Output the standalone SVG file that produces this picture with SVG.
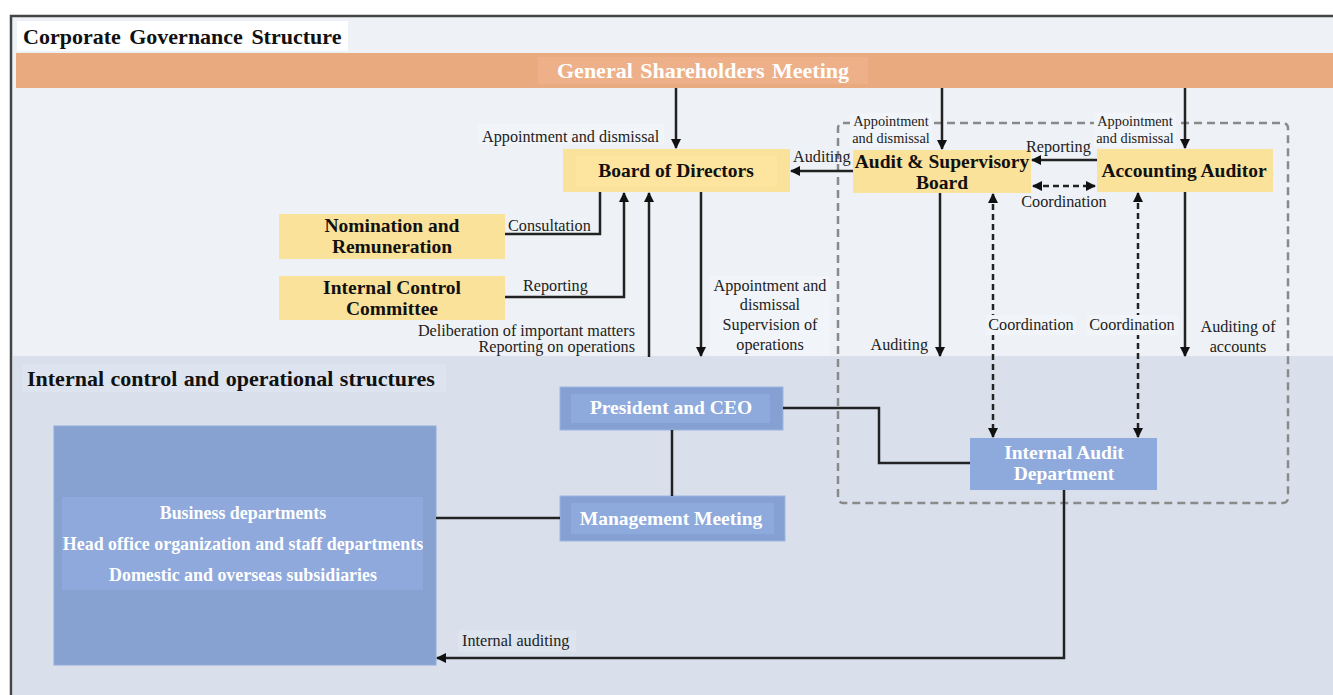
<svg xmlns="http://www.w3.org/2000/svg" width="1333" height="695" viewBox="0 0 1333 695">
<defs>
<style>
.t{font-family:"Liberation Serif","Times New Roman",serif;}
.h{font-weight:bold;font-size:22px;fill:#111;}
.n{font-weight:bold;font-size:19.5px;fill:#111;text-anchor:middle;}
.w{font-weight:bold;font-size:19.5px;fill:#fff;text-anchor:middle;}
.wd{font-weight:bold;font-size:17.9px;fill:#fff;text-anchor:middle;}
.l{font-size:16.2px;fill:#222;}
.s{font-size:14.3px;fill:#222;}
.ln{fill:none;stroke:#222;stroke-width:2.5;}
.dl{fill:none;stroke:#222;stroke-width:2.5;stroke-dasharray:6 4;}
.y{fill:#fbe29a;}
.yi{fill:#fde59f;}
.b{fill:#85a1d4;stroke:#9db4df;stroke-width:1;}
.bi{fill:#8eaadd;}
.lb{fill:#f1f4f8;}
</style>
<marker id="a" markerWidth="10" markerHeight="10" refX="9" refY="5" orient="auto" markerUnits="userSpaceOnUse">
<path d="M0,0 L10,5 L0,10 Z" fill="#111"/>
</marker>
<marker id="as" markerWidth="10" markerHeight="10" refX="1" refY="5" orient="auto" markerUnits="userSpaceOnUse">
<path d="M10,0 L0,5 L10,10 Z" fill="#111"/>
</marker>
</defs>
<rect x="0" y="0" width="1333" height="695" fill="#ffffff"/>
<rect x="11" y="16" width="1340" height="700" fill="#eef2f6" stroke="#444" stroke-width="2.5"/>
<rect x="13" y="356" width="1330" height="340" fill="#d9e0ec"/>
<g id="title">
<rect x="17" y="21" width="331" height="30" fill="#ffffff"/>
<text class="t h" x="23" y="44" word-spacing="3">Corporate Governance Structure</text>
</g>
<g id="shareholders">
<rect x="16" y="53" width="1320" height="35" fill="#e9aa80"/>
<rect x="538" y="57" width="330" height="27" fill="#eeb088"/>
<text class="t" x="703" y="78" font-size="22" font-weight="bold" fill="#fff" text-anchor="middle" word-spacing="2">General Shareholders Meeting</text>
</g>
<g id="section2">
<rect x="22" y="364" width="424" height="28" fill="#dde4ef"/>
<text class="t h" x="27" y="386" word-spacing="1">Internal control and operational structures</text>
</g>
<g id="audit-boundary">
<rect x="838" y="123" width="450" height="380" rx="5" fill="none" stroke="#8a8a8a" stroke-width="2.5" stroke-dasharray="8 5"/>
</g>
<g id="board">
<rect class="y" x="563" y="149" width="227" height="43"/>
<rect class="yi" x="576" y="156" width="201" height="30"/>
<text class="t n" x="676" y="177">Board of Directors</text>
</g>
<g id="asb">
<rect class="y" x="853" y="150" width="178" height="43"/>
<text class="t n" x="942" y="168">Audit &amp; Supervisory</text>
<text class="t n" x="942" y="189">Board</text>
</g>
<g id="accounting">
<rect class="y" x="1097" y="149" width="176" height="43"/>
<text class="t n" x="1184" y="177">Accounting Auditor</text>
</g>
<g id="nomination">
<rect class="y" x="279" y="214" width="226" height="45"/>
<text class="t n" x="392" y="232">Nomination and</text>
<text class="t n" x="392" y="253">Remuneration</text>
</g>
<g id="icc">
<rect class="y" x="279" y="276" width="226" height="44"/>
<text class="t n" x="392" y="294">Internal Control</text>
<text class="t n" x="392" y="315">Committee</text>
</g>
<g id="president">
<rect class="b" x="560" y="387" width="223" height="43"/>
<rect class="bi" x="571" y="394" width="199" height="29"/>
<text class="t w" x="671" y="414">President and CEO</text>
</g>
<g id="mgmt">
<rect class="b" x="560" y="496" width="225" height="45"/>
<rect class="bi" x="571" y="503" width="203" height="31"/>
<text class="t w" x="671" y="525">Management Meeting</text>
</g>
<g id="iad">
<rect x="970" y="438" width="187" height="52" fill="#8eaadd"/>
<text class="t w" x="1064" y="459">Internal Audit</text>
<text class="t w" x="1064" y="480">Department</text>
</g>
<g id="departments">
<rect x="54" y="426" width="382" height="239" fill="#87a1d1" stroke="#92abd9" stroke-width="1"/>
<rect x="62" y="497" width="361" height="93" fill="#8fa9dc"/>
<text class="t wd" x="243" y="519">Business departments</text>
<text class="t wd" x="243" y="550">Head office organization and staff departments</text>
<text class="t wd" x="243" y="581">Domestic and overseas subsidiaries</text>
</g>
<g id="connectors">
<path class="ln" d="M676,88 V148" marker-end="url(#a)"/>
<path class="ln" d="M942,88 V149" marker-end="url(#a)"/>
<path class="ln" d="M1185,88 V148" marker-end="url(#a)"/>
<path class="ln" d="M853,171 H791" marker-end="url(#a)"/>
<path class="ln" d="M1097,160 H1032" marker-end="url(#a)"/>
<path class="dl" d="M1033,186 H1095" marker-start="url(#as)" marker-end="url(#a)"/>
<path class="ln" d="M505,234 H600 V192"/>
<path class="ln" d="M505,297 H624 V193" marker-end="url(#a)"/>
<path class="ln" d="M649,357 V193" marker-end="url(#a)"/>
<path class="ln" d="M701,192 V356" marker-end="url(#a)"/>
<path class="ln" d="M940,193 V356" marker-end="url(#a)"/>
<path class="dl" d="M993,194 V437" marker-start="url(#as)" marker-end="url(#a)"/>
<path class="dl" d="M1138,193 V437" marker-start="url(#as)" marker-end="url(#a)"/>
<path class="ln" d="M1185,192 V356" marker-end="url(#a)"/>
<path class="ln" d="M783,408 H879 V463 H970"/>
<path class="ln" d="M672,430 V496"/>
<path class="ln" d="M436,518 H560"/>
<path class="ln" d="M1064,490 V658 H437" marker-end="url(#a)"/>
</g>
<g id="labels">
<rect class="lb" x="478" y="124" width="186" height="20"/>
<text class="t l" x="482" y="142">Appointment and dismissal</text>
<rect class="lb" x="850" y="113" width="82" height="34"/>
<text class="t s" x="891" y="126" text-anchor="middle">Appointment</text>
<text class="t s" x="891" y="143" text-anchor="middle">and dismissal</text>
<rect class="lb" x="1094" y="113" width="82" height="34"/>
<text class="t s" x="1135" y="126" text-anchor="middle">Appointment</text>
<text class="t s" x="1135" y="143" text-anchor="middle">and dismissal</text>
<text class="t l" x="793" y="162">Auditing</text>
<text class="t l" x="1026" y="152">Reporting</text>
<text class="t l" x="1064" y="207" text-anchor="middle">Coordination</text>
<text class="t l" x="508" y="231">Consultation</text>
<text class="t l" x="523" y="291">Reporting</text>
<text class="t l" x="635" y="336" text-anchor="end">Deliberation of important matters</text>
<text class="t l" x="635" y="352" text-anchor="end">Reporting on operations</text>
<rect class="lb" x="710" y="276" width="120" height="80"/>
<text class="t l" x="770" y="291" text-anchor="middle">Appointment and</text>
<text class="t l" x="770" y="310" text-anchor="middle">dismissal</text>
<text class="t l" x="770" y="330" text-anchor="middle">Supervision of</text>
<text class="t l" x="770" y="350" text-anchor="middle">operations</text>
<text class="t l" x="928" y="350" text-anchor="end">Auditing</text>
<rect class="lb" x="986" y="315" width="90" height="20"/>
<text class="t l" x="1031" y="330" text-anchor="middle">Coordination</text>
<rect class="lb" x="1087" y="315" width="91" height="20"/>
<text class="t l" x="1132" y="330" text-anchor="middle">Coordination</text>
<text class="t l" x="1238" y="332" text-anchor="middle">Auditing of</text>
<text class="t l" x="1238" y="352" text-anchor="middle">accounts</text>
<rect x="458" y="630" width="118" height="22" fill="#dde4ee"/>
<text class="t l" x="462" y="646">Internal auditing</text>
</g>
</svg>
